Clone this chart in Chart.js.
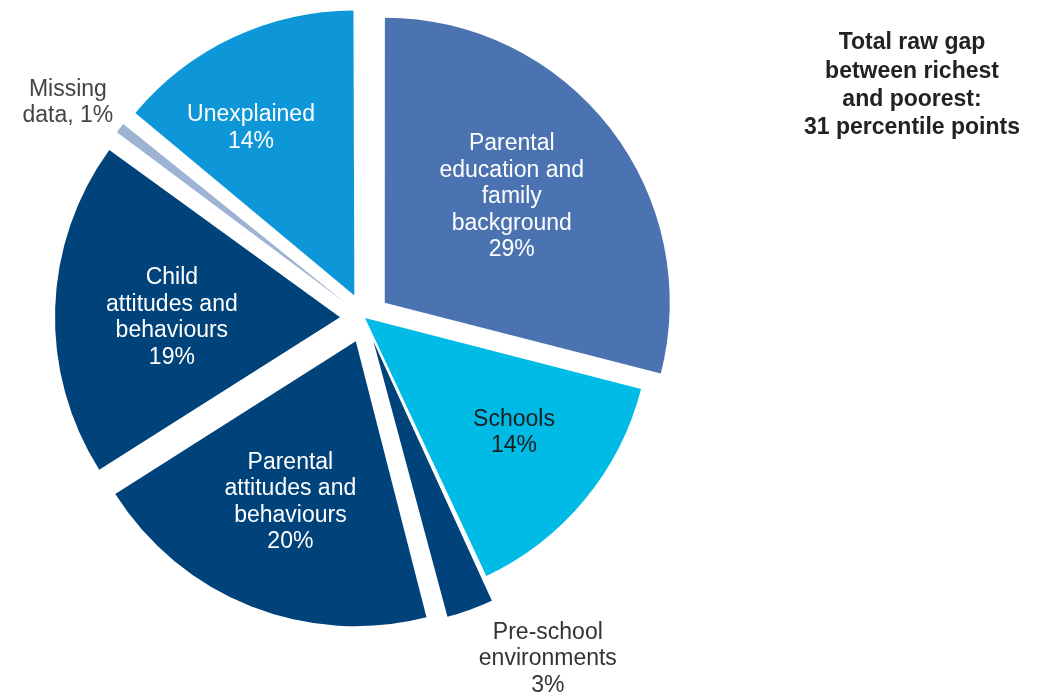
<!DOCTYPE html>
<html>
<head>
<meta charset="utf-8">
<script src="https://cdn.jsdelivr.net/npm/chart.js@4"></script>
<style>
  html, body { margin: 0; background: #fff; }
  #wrap { width: 1038px; height: 700px; position: relative; }
</style>
</head>
<body>
<div id="wrap"><canvas id="chart"></canvas></div>
<script>
// slices clockwise from 12 o'clock
const categories = [
  ['Parental', 'education and', 'family', 'background'],
  ['Schools'],
  ['Pre-school', 'environments'],
  ['Parental', 'attitudes and', 'behaviours'],
  ['Child', 'attitudes and', 'behaviours'],
  ['Missing', 'data,'],
  ['Unexplained'],
];
const shares = [29, 14, 3, 20, 19, 1, 14];
const exploded = [true, false, true, true, true, true, true];
const sliceColors = ['#4b73b1', '#00bbe5', '#00427a', '#00427a', '#00427a', '#9eb2d4', '#0d96d8'];
const labelColors = ['#ffffff', '#1e1e1e', '#333333', '#ffffff', '#ffffff', '#444444', '#ffffff'];
const titleLines = ['Total raw gap', 'between richest', 'and poorest:', '31 percentile points'];

// label anchor: [fraction of radius along the bisector, angle nudge in degrees]
const labelPlace = [[0.58, -2], [0.66, -2], [1.27, -9], [0.61, 0.5], [0.59, -2], [1.2, -2], [0.69, -6.5]];
const OFFSET = 100;
const FONT = '"Liberation Sans", Arial, sans-serif';

function labelLines(i) {
  const lines = categories[i].slice();
  if (lines[lines.length - 1].endsWith(',')) lines[lines.length - 1] += ' ' + shares[i] + '%';
  else lines.push(shares[i] + '%');
  return lines;
}

const explodeFix = {
  id: 'explodeFix',
  beforeDatasetsDraw(chart) {
    const meta = chart.getDatasetMeta(0);
    const R = meta.controller.outerRadius;
    meta.data.forEach((arc) => {
      const off = (arc.options.offset || 0) / 4;
      const fix = 1 - Math.sin(Math.min(Math.PI, arc.circumference || 0));
      arc.outerRadius = R - off * fix;
    });
  },
};

const sliceLabels = {
  id: 'sliceLabels',
  afterDatasetsDraw(chart) {
    const ctx = chart.ctx;
    const meta = chart.getDatasetMeta(0);
    const R = meta.controller.outerRadius;
    ctx.save();
    ctx.textAlign = 'center';
    ctx.textBaseline = 'middle';
    ctx.font = '23px ' + FONT;
    meta.data.forEach((arc, i) => {
      const off = (arc.options.offset || 0) / 4;
      const mid = (arc.startAngle + arc.endAngle) / 2;
      const [frac, nudge] = labelPlace[i];
      const a = mid + nudge * Math.PI / 180;
      const cx = arc.x + Math.cos(mid) * off + Math.cos(a) * frac * R;
      const cy = arc.y + Math.sin(mid) * off + Math.sin(a) * frac * R;
      const lines = labelLines(i);
      const lh = 26.5;
      ctx.fillStyle = labelColors[i];
      lines.forEach((t, k) => {
        ctx.fillText(t, cx, cy + (k - (lines.length - 1) / 2) * lh);
      });
    });
    ctx.font = 'bold 23px ' + FONT;
    ctx.fillStyle = '#222';
    titleLines.forEach((t, k) => ctx.fillText(t, 912, 43 + k * 28.3));
    ctx.restore();
  },
};

new Chart(document.getElementById('chart'), {
  type: 'pie',
  data: {
    labels: categories.map((c) => c.join(' ')),
    datasets: [{
      data: shares,
      backgroundColor: sliceColors,
      borderWidth: 0,
      offset: exploded.map((e) => (e ? OFFSET : 0)),
      hoverOffset: 0,
    }],
  },
  options: {
    responsive: true,
    maintainAspectRatio: false,
    animation: false,
    events: [],
    radius: 285,
    layout: { padding: { left: 0, top: 0, right: 308, bottom: 64 } },
    plugins: { legend: { display: false }, tooltip: { enabled: false } },
  },
  plugins: [explodeFix, sliceLabels],
});
</script>
</body>
</html>
